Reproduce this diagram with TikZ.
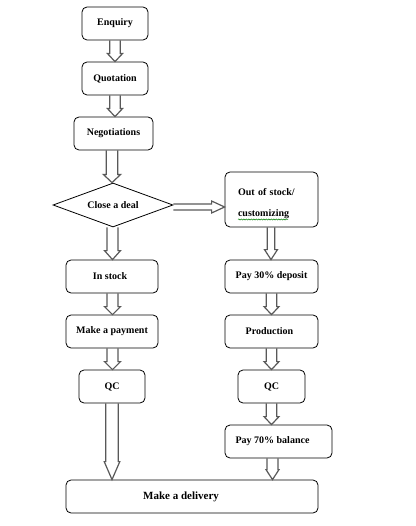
\documentclass[tikz,border=0pt]{standalone}
\usepackage{fontspec}
\setmainfont{Liberation Serif}
\usetikzlibrary{shapes.geometric,calc,decorations.pathmorphing}
\tikzset{
  box/.style={draw=black, line width=0.8pt, rounded corners=5pt, fill=white, inner sep=2pt,
    font=\bfseries\fontsize{10}{12}\selectfont},
  dealdiamond/.style={draw=black, line width=0.8pt, diamond, aspect=2.7, inner sep=1pt, fill=white,
    font=\bfseries\fontsize{10}{12}\selectfont},
  barrow/.style={draw=black!65, line width=1.2pt, line join=miter},
}
\newcommand{\blockdown}[5]{%
  \draw[barrow] let \p1=#1, \p2=#2 in
  (\x1-#3pt,\y1) -- (\x1-#3pt,\y2+#5pt) -- (\x1-#4pt,\y2+#5pt) -- (\x1,\y2)
  -- (\x1+#4pt,\y2+#5pt) -- (\x1+#3pt,\y2+#5pt) -- (\x1+#3pt,\y1);}
\newcommand{\blockright}[5]{%
  \draw[barrow] let \p1=#1, \p2=#2 in
  (\x1,\y1-#3pt) -- (\x2-#5pt,\y1-#3pt) -- (\x2-#5pt,\y1-#4pt) -- (\x2,\y1)
  -- (\x2-#5pt,\y1+#4pt) -- (\x2-#5pt,\y1+#3pt) -- (\x1,\y1+#3pt);}
\begin{document}
\begin{tikzpicture}[x=1pt,y=-1pt]
\useasboundingbox (0,0) rectangle (415,526);
% boxes
\node[box, minimum width=66pt, minimum height=33pt] (enq) at (115,23.5) {Enquiry};
\node[box, minimum width=66pt, minimum height=33pt] (quo) at (115,78.5) {Quotation};
\node[box, minimum width=79pt, minimum height=33pt] (neg) at (113.5,133.5) {Negotiations};
\node[dealdiamond, minimum width=120pt, minimum height=44pt] (dia) at (113,205) {Close a deal};
\node[box, minimum width=93pt, minimum height=55pt, text width=67pt, align=left] (oos) at (271.5,199.5)
  {\rule{0pt}{16pt}Out of stock/\\[9pt]customizing};
\node[box, minimum width=92pt, minimum height=33pt] (ins) at (112,276.5) {In stock\hspace*{4pt}};
\node[box, minimum width=93pt, minimum height=33pt] (p30) at (271.5,276.5) {Pay 30\% deposit};
\node[box, minimum width=92pt, minimum height=33pt] (pay) at (112,331.5) {Make a payment};
\node[box, minimum width=93pt, minimum height=33pt] (prod) at (271.5,331.5) {Production\hspace*{4pt}};
\node[box, minimum width=66pt, minimum height=33pt] (qcl) at (112,386.5) {QC};
\node[box, minimum width=67pt, minimum height=33pt] (qcr) at (271.5,386.5) {QC};
\node[box, minimum width=107pt, minimum height=33pt] (p70) at (278.5,441.5) {Pay 70\% balance\hspace*{12pt}};
\node[box, minimum width=252pt, minimum height=33pt, font=\bfseries\fontsize{11}{13}\selectfont]
  (del) at (192,496.5) {Make a delivery\hspace*{22pt}};
% spell-check underline
\draw[green!50!black, line width=0.5pt, decorate, decoration={snake, amplitude=0.6pt, segment length=2.5pt}]
  ($(oos.center)+(-33.5,20)$) -- ($(oos.center)+(16.5,20)$);
% arrows
\blockdown{(enq.south)}{(quo.north)}{5.3}{7.5}{8}
\blockdown{(quo.south)}{(neg.north)}{5.3}{7.5}{8}
\blockdown{($(neg.south)+(-1.5,0)$)}{(dia.north)}{5.8}{8.5}{8}
\blockdown{($(dia.south)+(-0.5,0)$)}{(ins.north)}{5.5}{8}{9}
\blockdown{($(ins.south)+(0.5,0)$)}{(pay.north)}{5.5}{8}{8}
\blockdown{($(pay.south)+(0.5,0)$)}{(qcl.north)}{5.5}{8}{8}
\blockdown{(qcl.south)}{(del.north)}{6.3}{7.8}{18}
\blockdown{($(oos.south)+(-0.5,0)$)}{(p30.north)}{3.8}{6.5}{10}
\blockdown{(p30.south)}{(prod.north)}{5.3}{7.5}{8}
\blockdown{(prod.south)}{(qcr.north)}{5.3}{7.5}{8}
\blockdown{(qcr.south)}{(p70.north)}{5.3}{7.5}{8}
\blockdown{($(p70.south -| qcr.south)+(1,0)$)}{(del.north)}{5.5}{6.5}{10}
\blockright{($(dia.east)+(0,2)$)}{(oos.west)}{3}{6}{13}
\end{tikzpicture}
\end{document}
